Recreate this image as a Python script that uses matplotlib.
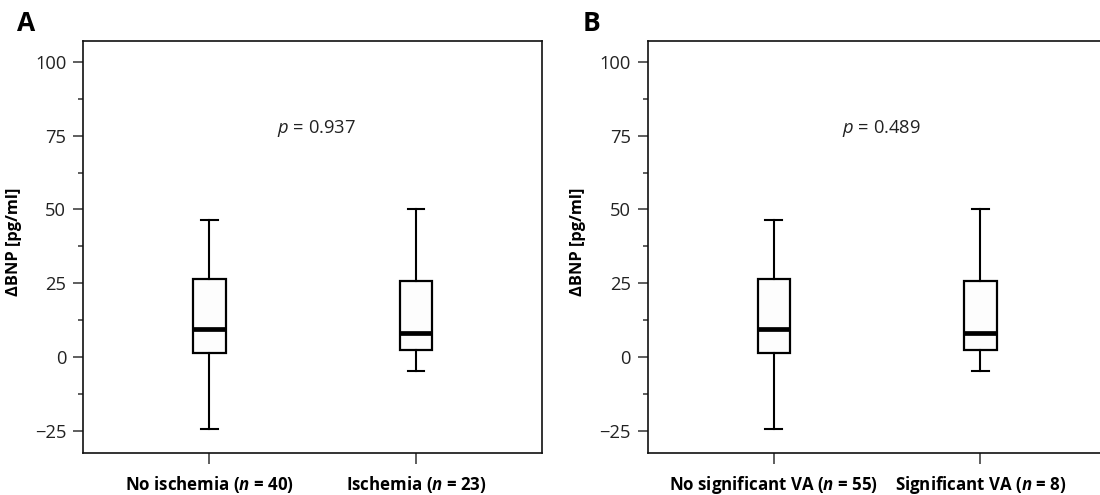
import matplotlib
matplotlib.use("Agg")
import matplotlib.pyplot as plt
from matplotlib.ticker import MultipleLocator

plt.rcParams['font.family'] = ['Open Sans', 'DejaVu Sans']
plt.rcParams['mathtext.fontset'] = 'custom'
plt.rcParams['mathtext.rm'] = 'Open Sans'
plt.rcParams['mathtext.it'] = 'Open Sans:italic'
plt.rcParams['mathtext.bf'] = 'Open Sans:bold'
plt.rcParams['mathtext.bfit'] = 'Open Sans:italic:bold'

# ---- data ----
panel_letters = ["A", "B"]
groups_A = ["No ischemia", "Ischemia"]
n_A = [40, 23]
groups_B = ["No significant VA", "Significant VA"]
n_B = [55, 8]
p_values = ["0.937", "0.489"]

whislo_A = [-24.4, -4.5]
q1_A = [1.6, 2.5]
med_A = [9.4, 8.3]
q3_A = [26.6, 25.7]
whishi_A = [46.6, 50.3]

whislo_B = [-24.4, -4.5]
q1_B = [1.6, 2.5]
med_B = [9.4, 8.3]
q3_B = [26.6, 25.7]
whishi_B = [46.6, 50.3]

y_ticks = [-25, 0, 25, 50, 75, 100]
y_label = "ΔBNP [pg/ml]"

W, H = 1100, 495
fig = plt.figure(figsize=(W / 100, H / 100), dpi=100)

ax_left_px = [83.3, 647.7]
ax_top_px, ax_bot_px = 41.3, 452.7
ax_w_px = 458.7

panels = [
    (groups_A, n_A, whislo_A, q1_A, med_A, q3_A, whishi_A),
    (groups_B, n_B, whislo_B, q1_B, med_B, q3_B, whishi_B),
]

for i, (groups, ns, wl, q1, md, q3, wh) in enumerate(panels):
    ax = fig.add_axes([ax_left_px[i] / W, (H - ax_bot_px) / H,
                       ax_w_px / W, (ax_bot_px - ax_top_px) / H])
    stats = []
    for j in range(len(groups)):
        stats.append(dict(whislo=wl[j], q1=q1[j], med=md[j], q3=q3[j],
                          whishi=wh[j], fliers=[], label=groups[j]))
    ax.bxp(stats, positions=[1, 2], widths=0.157, capwidths=0.081,
           showfliers=False, patch_artist=True,
           boxprops=dict(facecolor='#fdfdfd', edgecolor='black', linewidth=1.6),
           whiskerprops=dict(color='black', linewidth=1.5),
           capprops=dict(color='black', linewidth=1.5),
           medianprops=dict(color='black', linewidth=3.4, solid_capstyle='butt'))
    ax.set_xlim(0.39, 2.61)
    ax.set_ylim(-32.3, 106.9)
    ax.set_yticks(y_ticks)
    ax.yaxis.set_minor_locator(MultipleLocator(12.5))
    ax.set_xticks([1, 2])
    ax.set_xticklabels([f"{g} ($\\mathbfit{{n}}$ = {n})" for g, n in zip(groups, ns)],
                       fontweight='bold', fontsize=12.2)
    ax.tick_params(axis='y', which='major', length=7.2, width=1.1, color='#333333',
                   labelsize=13.2, pad=5, labelcolor='#222222')
    ax.tick_params(axis='y', which='minor', length=3.8, width=1.1, color='#333333')
    ax.tick_params(axis='x', which='major', length=7.8, width=1.1, color='#333333',
                   pad=7.5)
    for s in ax.spines.values():
        s.set_linewidth(1.2)
        s.set_color('#111111')
    ax.set_ylabel(y_label, fontweight='bold', fontsize=11.8)
    ax.yaxis.set_label_coords(-61.6 / ax_w_px, 0.513)
    ax.text(1.52, 77.4, f"$\\mathit{{p}}$ = {p_values[i]}", ha='center', va='center',
            fontsize=13.2, color='#222222')

fig.text(17 / W, 1 - 31 / H, panel_letters[0], fontsize=19, fontweight='bold',
         ha='left', va='baseline')
fig.text(582.7 / W, 1 - 31 / H, panel_letters[1], fontsize=19, fontweight='bold',
         ha='left', va='baseline')

fig.savefig("out.png", dpi=100)
